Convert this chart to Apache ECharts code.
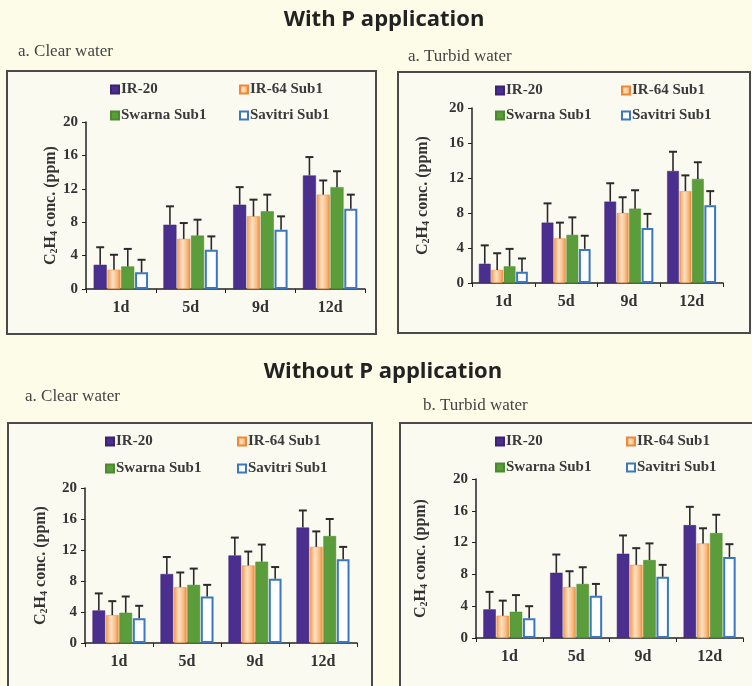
<!DOCTYPE html>
<html>
<head>
<meta charset="utf-8">
<script src="https://cdn.jsdelivr.net/npm/echarts@6/dist/echarts.min.js"></script>
<style>
html,body{margin:0;padding:0;background:#fdfce9;}
#c{width:752px;height:686px;}
</style>
</head>
<body>
<div id="c"></div>
<script>
// ---------- data ----------
const categories = ['1d', '5d', '9d', '12d'];
const seriesNames = ['IR-20', 'IR-64 Sub1', 'Swarna Sub1', 'Savitri Sub1'];
const panelTitles = ['a. Clear water', 'a. Turbid water', 'a. Clear water', 'b. Turbid water'];
const yMin = 0, yMax = 20, yStep = 4;

// With P application – clear water (means, SE)
const withPClearIR20 = [2.9, 7.7, 10.1, 13.6];
const withPClearIR64 = [2.3, 6.0, 8.7, 11.3];
const withPClearSwarna = [2.7, 6.4, 9.3, 12.2];
const withPClearSavitri = [2.0, 4.7, 7.1, 9.6];
const withPClearErr = [[2.1, 2.2, 2.1, 2.2], [1.8, 1.9, 2.0, 1.7], [2.1, 1.9, 2.0, 1.9], [1.5, 1.6, 1.6, 1.7]];

// With P application – turbid water
const withPTurbidIR20 = [2.2, 6.9, 9.3, 12.8];
const withPTurbidIR64 = [1.5, 5.1, 8.0, 10.5];
const withPTurbidSwarna = [1.9, 5.5, 8.5, 11.9];
const withPTurbidSavitri = [1.3, 3.9, 6.3, 8.9];
const withPTurbidErr = [[2.1, 2.2, 2.1, 2.2], [1.9, 1.8, 1.8, 1.8], [2.0, 2.0, 2.1, 1.9], [1.5, 1.5, 1.6, 1.6]];

// Without P application – clear water
const noPClearIR20 = [4.2, 8.9, 11.3, 14.9];
const noPClearIR64 = [3.6, 7.2, 10.0, 12.4];
const noPClearSwarna = [3.9, 7.5, 10.5, 13.8];
const noPClearSavitri = [3.2, 6.0, 8.3, 10.8];
const noPClearErr = [[2.2, 2.2, 2.3, 2.2], [1.8, 1.9, 1.8, 2.0], [2.1, 2.1, 2.2, 2.2], [1.6, 1.5, 1.5, 1.6]];

// Without P application – turbid water
const noPTurbidIR20 = [3.6, 8.2, 10.6, 14.2];
const noPTurbidIR64 = [2.8, 6.4, 9.2, 11.9];
const noPTurbidSwarna = [3.3, 6.8, 9.8, 13.2];
const noPTurbidSavitri = [2.5, 5.3, 7.7, 10.2];
const noPTurbidErr = [[2.2, 2.3, 2.3, 2.3], [1.9, 2.0, 2.1, 1.9], [2.1, 2.1, 2.1, 2.3], [1.5, 1.5, 1.5, 1.6]];

const panelMeans = [
  [withPClearIR20, withPClearIR64, withPClearSwarna, withPClearSavitri],
  [withPTurbidIR20, withPTurbidIR64, withPTurbidSwarna, withPTurbidSavitri],
  [noPClearIR20, noPClearIR64, noPClearSwarna, noPClearSavitri],
  [noPTurbidIR20, noPTurbidIR64, noPTurbidSwarna, noPTurbidSavitri]
];
const panelErrs = [withPClearErr, withPTurbidErr, noPClearErr, noPTurbidErr];

// ---------- layout / style ----------
const grids = [
  {left: 86, top: 122, width: 279, height: 167},
  {left: 472, top: 108, width: 251, height: 175},
  {left: 85, top: 488, width: 272, height: 155},
  {left: 476, top: 479, width: 267, height: 159}
];
const nameGaps = [27, 41, 36, 47];
const boxes = [
  {x: 7, y: 71, w: 369, h: 263},
  {x: 398, y: 72, w: 352, h: 261},
  {x: 8, y: 423, w: 364, h: 275},
  {x: 400, y: 423, w: 360, h: 275}
];
const labelPos = [[18, 52], [408, 57], [25, 397], [423, 406]];
const legendPos = [
  [[110, 91], [239, 91], [110, 117], [239, 117]],
  [[495, 92], [621, 92], [495, 117], [621, 117]],
  [[105, 443], [237, 443], [105, 470], [237, 470]],
  [[495, 443], [626, 443], [495, 469], [626, 469]]
];
const CAT_GAP = 0.22, BAR_GAP = 0.06;
const serif = '"Liberation Serif", "Times New Roman", serif';

const barStyles = [
  {color: '#4b2f8f', borderColor: '#3b2272', borderWidth: 0.5},
  {color: {type: 'linear', x: 0, y: 0, x2: 1, y2: 0, colorStops: [
    {offset: 0, color: '#f39a52'}, {offset: 0.4, color: '#fde2c4'},
    {offset: 0.75, color: '#f8bb82'}, {offset: 1, color: '#ee8838'}]}, borderColor: '#ee8838', borderWidth: 0.5},
  {color: '#5b9c3b', borderColor: '#4a8a2e', borderWidth: 0.5},
  {color: '#ffffff', borderColor: '#3a77c0', borderWidth: 2}
];

const option = {
  backgroundColor: '#fdfce9',
  animation: false,
  grid: grids.map(g => Object.assign({containLabel: false}, g)),
  xAxis: grids.map((g, i) => ({
    type: 'category', gridIndex: i, data: categories,
    axisLine: {lineStyle: {color: '#222', width: 1.5}},
    axisTick: {show: true, length: 4, lineStyle: {color: '#222'}},
    axisLabel: {fontFamily: serif, fontWeight: 'bold', fontSize: 16, color: '#333', margin: 11}
  })),
  yAxis: grids.map((g, i) => ({
    type: 'value', gridIndex: i, min: yMin, max: yMax, interval: yStep,
    splitLine: {show: false},
    axisLine: {show: true, lineStyle: {color: '#222', width: 1.5}},
    axisTick: {show: true, length: 4, lineStyle: {color: '#222'}},
    axisLabel: {fontFamily: serif, fontWeight: 'bold', fontSize: 15, color: '#333', margin: 8},
    name: 'C{sub|2}H{sub|4} conc. (ppm)',
    nameLocation: 'middle', nameRotate: 90, nameGap: nameGaps[i],
    nameTextStyle: {fontFamily: serif, fontWeight: 'bold', fontSize: 16, color: '#333',
      rich: {sub: {fontFamily: serif, fontWeight: 'bold', fontSize: 10, color: '#333', verticalAlign: 'bottom', padding: [7, 0, 0, 0]}}}
  })),
  legend: [],
  series: [],
  graphic: []
};

// legends: one per item
legendPos.forEach((row, p) => {
  row.forEach((pos, s) => {
    option.legend.push({
      data: [seriesNames[s]], left: pos[0], top: pos[1] - 9,
      itemWidth: 8, itemHeight: 8, icon: 'rect', padding: 0,
      textStyle: {fontFamily: serif, fontWeight: 'bold', fontSize: 15, color: '#3a3a3a', padding: [0, 0, 0, -3]},
      selectedMode: false
    });
  });
});

// bars
panelMeans.forEach((means, p) => {
  means.forEach((vals, s) => {
    option.series.push({
      type: 'bar', name: seriesNames[s], xAxisIndex: p, yAxisIndex: p,
      data: vals, barCategoryGap: (CAT_GAP * 100) + '%', barGap: (BAR_GAP * 100) + '%',
      itemStyle: barStyles[s], z: 2
    });
  });
  // error bars
  const errData = [];
  means.forEach((vals, s) => vals.forEach((v, c) => errData.push([c, s, v, panelErrs[p][s][c]])));
  option.series.push({
    type: 'custom', name: 'err' + p, xAxisIndex: p, yAxisIndex: p, z: 5,
    data: errData, encode: {x: 0, y: 2},
    renderItem: function (params, api) {
      const c = api.value(0), s = api.value(1), m = api.value(2), e = api.value(3);
      const base = api.coord([c, m]);
      const top = api.coord([c, m + e]);
      const band = api.size([1, 0])[0];
      const total = band * (1 - CAT_GAP);
      const bw = total / (4 + 3 * BAR_GAP);
      const x = base[0] - total / 2 + bw / 2 + s * bw * (1 + BAR_GAP);
      const st = {stroke: '#2a2a2a', lineWidth: 1.6};
      return {type: 'group', children: [
        {type: 'line', shape: {x1: x, y1: base[1], x2: x, y2: top[1]}, style: st},
        {type: 'line', shape: {x1: x - 4, y1: top[1], x2: x + 4, y2: top[1]}, style: {stroke: '#2a2a2a', lineWidth: 2}}
      ]};
    }
  });
});

// boxes, titles, panel labels
boxes.forEach(b => option.graphic.push({
  type: 'rect', z: -10, shape: {x: b.x, y: b.y, width: b.w, height: b.h},
  style: {fill: '#fbfaf1', stroke: '#4a4a4a', lineWidth: 2}
}));
option.graphic.push({type: 'text', x: 384, y: 20, z: 10,
  style: {text: 'With P application', font: 'bold 22px "Open Sans"', fill: '#222', align: 'center', verticalAlign: 'middle'}});
option.graphic.push({type: 'text', x: 383, y: 372, z: 10,
  style: {text: 'Without P application', font: 'bold 22px "Open Sans"', fill: '#222', align: 'center', verticalAlign: 'middle'}});
labelPos.forEach((pos, i) => option.graphic.push({type: 'text', x: pos[0], y: pos[1], z: 10,
  style: {text: panelTitles[i], font: '17px "Liberation Serif"', fill: '#444', align: 'left', verticalAlign: 'middle'}}));

const chart = echarts.init(document.getElementById('c'), null, {renderer: 'canvas'});
chart.setOption(option);
</script>
</body>
</html>
